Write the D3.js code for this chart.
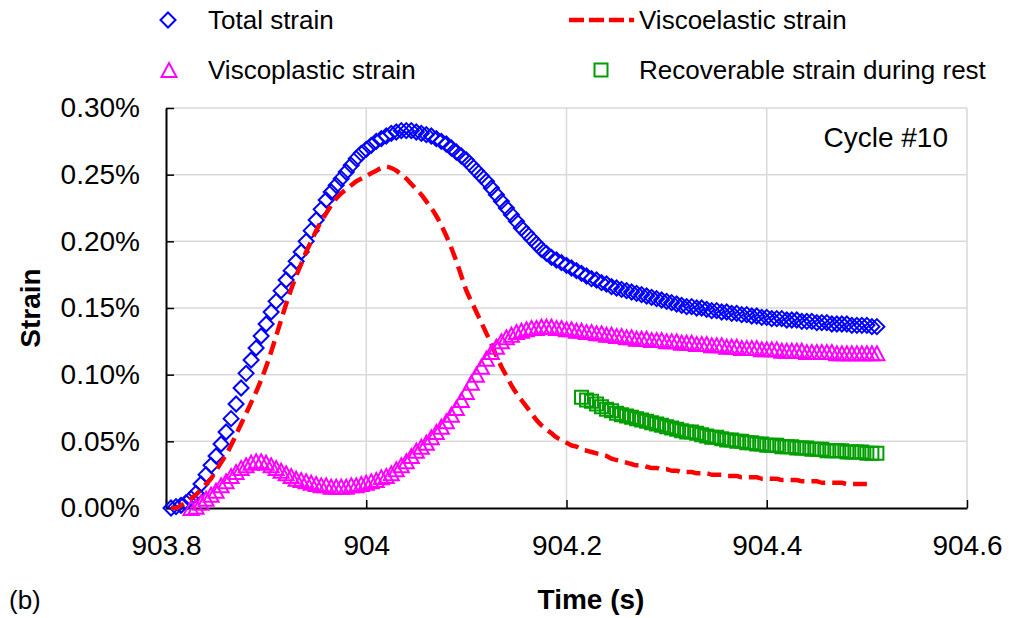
<!DOCTYPE html>
<html>
<head>
<meta charset="utf-8">
<script src="https://cdn.jsdelivr.net/npm/d3@7"></script>
<style>
  html, body { margin: 0; padding: 0; background: #fff; }
  svg { display: block; font-family: "Liberation Sans", Arial, sans-serif; }
</style>
</head>
<body>
<svg id="chart"></svg>
<script>
// sampling interval of the recorded series (s)
const step = 0.005;

// Total strain (%), sampled from 903.805 s
const totalStart = 903.805;
const totalStrain = [
  0.000, 0.001, 0.002, 0.004, 0.007, 0.011, 0.018, 0.025, 0.032, 0.039,
  0.048, 0.057, 0.067, 0.078, 0.090, 0.101, 0.111, 0.120, 0.129, 0.138,
  0.147, 0.155, 0.163, 0.171, 0.178, 0.185, 0.192, 0.200, 0.208, 0.216,
  0.224, 0.231, 0.237, 0.242, 0.247, 0.252, 0.257, 0.262, 0.266, 0.269,
  0.272, 0.275, 0.277, 0.279, 0.281, 0.282, 0.283, 0.283, 0.283, 0.282,
  0.281, 0.280, 0.279, 0.277, 0.275, 0.273, 0.270, 0.267, 0.264, 0.261,
  0.257, 0.253, 0.249, 0.245, 0.240, 0.235, 0.230, 0.225, 0.220, 0.215,
  0.210, 0.206, 0.202, 0.198, 0.194, 0.191, 0.188, 0.186, 0.184, 0.182,
  0.180, 0.178, 0.176, 0.174, 0.172, 0.171, 0.169, 0.168, 0.166, 0.165,
  0.164, 0.163, 0.162, 0.161, 0.160, 0.159, 0.158, 0.157, 0.156, 0.155,
  0.154, 0.153, 0.152, 0.151, 0.151, 0.150, 0.150, 0.149, 0.148, 0.148,
  0.147, 0.147, 0.146, 0.146, 0.145, 0.145, 0.144, 0.144, 0.143, 0.143,
  0.142, 0.142, 0.142, 0.141, 0.141, 0.141, 0.140, 0.140, 0.140, 0.139,
  0.139, 0.139, 0.138, 0.138, 0.138, 0.138, 0.137, 0.137, 0.137, 0.137,
  0.136, 0.136
];

// Viscoelastic strain (%), sampled from 903.805 s
const veStart = 903.805;
const viscoelasticStrain = [
  0.000, 0.000, 0.002, 0.004, 0.007, 0.010, 0.014, 0.018, 0.022, 0.028,
  0.034, 0.040, 0.047, 0.055, 0.063, 0.071, 0.079, 0.087, 0.096, 0.106,
  0.117, 0.129, 0.141, 0.153, 0.164, 0.174, 0.183, 0.192, 0.200, 0.208,
  0.215, 0.221, 0.227, 0.232, 0.236, 0.239, 0.242, 0.245, 0.247, 0.249,
  0.251, 0.253, 0.255, 0.256, 0.255, 0.253, 0.250, 0.247, 0.243, 0.239,
  0.235, 0.230, 0.225, 0.219, 0.212, 0.204, 0.195, 0.185, 0.174, 0.163,
  0.155, 0.147, 0.139, 0.131, 0.123, 0.114, 0.106, 0.099, 0.092, 0.086,
  0.081, 0.076, 0.071, 0.066, 0.062, 0.059, 0.056, 0.053, 0.051, 0.049,
  0.047, 0.046, 0.044, 0.043, 0.042, 0.041, 0.040, 0.039, 0.037, 0.036,
  0.035, 0.034, 0.033, 0.032, 0.032, 0.031, 0.030, 0.030, 0.029, 0.029,
  0.028, 0.028, 0.027, 0.027, 0.027, 0.026, 0.026, 0.026, 0.025, 0.025,
  0.025, 0.024, 0.024, 0.024, 0.023, 0.023, 0.023, 0.023, 0.022, 0.022,
  0.022, 0.022, 0.021, 0.021, 0.021, 0.021, 0.020, 0.020, 0.020, 0.020,
  0.019, 0.019, 0.019, 0.019, 0.019, 0.018, 0.018, 0.018, 0.018, 0.018
];

// Viscoplastic strain (%), sampled from 903.825 s
const vpStart = 903.825;
const viscoplasticStrain = [
  0.000, 0.001, 0.004, 0.007, 0.010, 0.013, 0.017, 0.020, 0.024, 0.027,
  0.030, 0.032, 0.034, 0.035, 0.035, 0.034, 0.032, 0.030, 0.028, 0.026,
  0.024, 0.022, 0.021, 0.020, 0.019, 0.018, 0.017, 0.017, 0.016, 0.016,
  0.016, 0.016, 0.017, 0.017, 0.018, 0.019, 0.020, 0.021, 0.023, 0.024,
  0.026, 0.029, 0.032, 0.035, 0.039, 0.043, 0.046, 0.049, 0.053, 0.057,
  0.061, 0.065, 0.070, 0.075, 0.081, 0.087, 0.094, 0.100, 0.106, 0.112,
  0.117, 0.121, 0.125, 0.128, 0.130, 0.132, 0.133, 0.134, 0.135, 0.135,
  0.136, 0.136, 0.136, 0.135, 0.135, 0.134, 0.134, 0.133, 0.133, 0.132,
  0.132, 0.131, 0.131, 0.130, 0.130, 0.129, 0.129, 0.128, 0.128, 0.127,
  0.127, 0.127, 0.126, 0.126, 0.126, 0.125, 0.125, 0.125, 0.124, 0.124,
  0.124, 0.123, 0.123, 0.123, 0.122, 0.122, 0.122, 0.121, 0.121, 0.121,
  0.120, 0.120, 0.120, 0.120, 0.119, 0.119, 0.119, 0.119, 0.118, 0.118,
  0.118, 0.118, 0.118, 0.117, 0.117, 0.117, 0.117, 0.117, 0.117, 0.116,
  0.116, 0.116, 0.116, 0.116, 0.116, 0.116, 0.116, 0.116
];

// Recoverable strain during rest (%), sampled from 904.215 s
const recStart = 904.215;
const recoverableStrain = [
  0.083, 0.081, 0.080, 0.078, 0.076, 0.074, 0.073, 0.071, 0.070, 0.069,
  0.068, 0.067, 0.066, 0.065, 0.064, 0.063, 0.062, 0.061, 0.060, 0.059,
  0.058, 0.057, 0.057, 0.056, 0.055, 0.054, 0.053, 0.053, 0.052, 0.051,
  0.051, 0.050, 0.050, 0.049, 0.049, 0.048, 0.048, 0.047, 0.047, 0.047,
  0.046, 0.046, 0.046, 0.045, 0.045, 0.045, 0.044, 0.044, 0.044, 0.043,
  0.043, 0.043, 0.043, 0.042, 0.042, 0.042, 0.042, 0.041, 0.041, 0.041
];

const xTicks = [903.8, 904, 904.2, 904.4, 904.6];
const yTicks = [0, 0.05, 0.10, 0.15, 0.20, 0.25, 0.30];

const width = 1009, height = 618;
const margin = {top: 108, right: 42, bottom: 110, left: 166};

const toPoints = (start, values) => values.map((v, i) => ({t: start + i * step, v: v}));

const svg = d3.select("#chart")
  .attr("width", width)
  .attr("height", height)
  .attr("viewBox", [0, 0, width, height]);

const x = d3.scaleLinear()
  .domain([903.8, 904.6])
  .range([margin.left, width - margin.right]);

const y = d3.scaleLinear()
  .domain([0, 0.30])
  .range([height - margin.bottom, margin.top]);

// grid
const grid = svg.append("g")
  .attr("stroke", "#d9d9d9")
  .attr("stroke-width", 1.5);
grid.selectAll("line.h")
  .data(yTicks.slice(1))
  .join("line")
    .attr("class", "h")
    .attr("x1", margin.left).attr("x2", width - margin.right)
    .attr("y1", d => y(d)).attr("y2", d => y(d));
grid.selectAll("line.v")
  .data(xTicks.slice(1))
  .join("line")
    .attr("class", "v")
    .attr("x1", d => x(d)).attr("x2", d => x(d))
    .attr("y1", margin.top).attr("y2", height - margin.bottom);

// axes
const xAxis = svg.append("g")
  .attr("transform", `translate(0,${height - margin.bottom})`)
  .call(d3.axisBottom(x)
    .tickValues(xTicks)
    .tickFormat(d => String(+d.toFixed(1)))
    .tickSizeInner(-8)
    .tickSizeOuter(0)
    .tickPadding(27));

const yAxis = svg.append("g")
  .attr("transform", `translate(${margin.left},0)`)
  .call(d3.axisLeft(y)
    .tickValues(yTicks)
    .tickFormat(d => d.toFixed(2) + "%")
    .tickSizeInner(-8)
    .tickSizeOuter(0)
    .tickPadding(26));

[xAxis, yAxis].forEach(a => {
  a.select(".domain").attr("stroke", "#000").attr("stroke-width", 2);
  a.selectAll(".tick line").attr("stroke", "#000").attr("stroke-width", 1.5);
  a.selectAll(".tick text")
    .attr("font-size", 28)
    .attr("font-family", "Liberation Sans, Arial, sans-serif")
    .attr("fill", "#000");
});

// marker shapes
const diamond = "M0,-7.5L7.5,0L0,7.5L-7.5,0Z";
const triangle = "M0,-7L7.5,7L-7.5,7Z";
const square = "M-6.5,-6.5H6.5V6.5H-6.5Z";
const markerStroke = 2;

const plot = svg.append("g");

plot.append("g")
    .attr("fill", "none")
    .attr("stroke", "#0000ff")
    .attr("stroke-width", markerStroke)
  .selectAll("path")
  .data(toPoints(totalStart, totalStrain))
  .join("path")
    .attr("d", diamond)
    .attr("transform", d => `translate(${x(d.t)},${y(d.v)})`);

plot.append("path")
  .datum(toPoints(veStart, viscoelasticStrain))
  .attr("fill", "none")
  .attr("stroke", "#ff0000")
  .attr("stroke-width", 4.5)
  .attr("stroke-dasharray", "14,7")
  .attr("d", d3.line().x(d => x(d.t)).y(d => y(d.v)).curve(d3.curveMonotoneX));

plot.append("g")
    .attr("fill", "none")
    .attr("stroke", "#ff00ff")
    .attr("stroke-width", markerStroke)
  .selectAll("path")
  .data(toPoints(vpStart, viscoplasticStrain))
  .join("path")
    .attr("d", triangle)
    .attr("transform", d => `translate(${x(d.t)},${y(d.v)})`);

plot.append("g")
    .attr("fill", "none")
    .attr("stroke", "#009e00")
    .attr("stroke-width", markerStroke)
  .selectAll("path")
  .data(toPoints(recStart, recoverableStrain))
  .join("path")
    .attr("d", square)
    .attr("transform", d => `translate(${x(d.t)},${y(d.v)})`);

// legend
const legend = svg.append("g").attr("font-size", 26).attr("fill", "#000");
const legendItems = [
  {label: "Total strain", kind: "diamond", color: "#0000ff", mx: 168, tx: 208, y: 20},
  {label: "Viscoelastic strain", kind: "line", color: "#ff0000", mx: 601, tx: 639, y: 20},
  {label: "Viscoplastic strain", kind: "triangle", color: "#ff00ff", mx: 169, tx: 208, y: 70},
  {label: "Recoverable strain during rest", kind: "square", color: "#009e00", mx: 601, tx: 639, y: 70}
];
legendItems.forEach(it => {
  if (it.kind === "line") {
    legend.append("line")
      .attr("x1", 569).attr("x2", 634)
      .attr("y1", it.y).attr("y2", it.y)
      .attr("stroke", it.color)
      .attr("stroke-width", 4.5)
      .attr("stroke-dasharray", "15,5");
  } else {
    const shape = it.kind === "diamond" ? diamond : it.kind === "triangle" ? triangle : square;
    legend.append("path")
      .attr("d", shape)
      .attr("transform", `translate(${it.mx},${it.y})`)
      .attr("fill", "none")
      .attr("stroke", it.color)
      .attr("stroke-width", markerStroke);
  }
  legend.append("text")
    .attr("x", it.tx)
    .attr("y", it.y)
    .attr("dy", "0.35em")
    .text(it.label);
});

// titles
svg.append("text")
  .attr("transform", `translate(40,${(margin.top + height - margin.bottom) / 2}) rotate(-90)`)
  .attr("text-anchor", "middle")
  .attr("font-size", 28)
  .attr("font-weight", "bold")
  .text("Strain");

svg.append("text")
  .attr("x", 591)
  .attr("y", 609)
  .attr("text-anchor", "middle")
  .attr("font-size", 28)
  .attr("font-weight", "bold")
  .text("Time (s)");

svg.append("text")
  .attr("x", 9)
  .attr("y", 609)
  .attr("font-size", 26)
  .text("(b)");

svg.append("text")
  .attr("x", 948)
  .attr("y", 147)
  .attr("text-anchor", "end")
  .attr("font-size", 28)
  .text("Cycle #10");
</script>
</body>
</html>
